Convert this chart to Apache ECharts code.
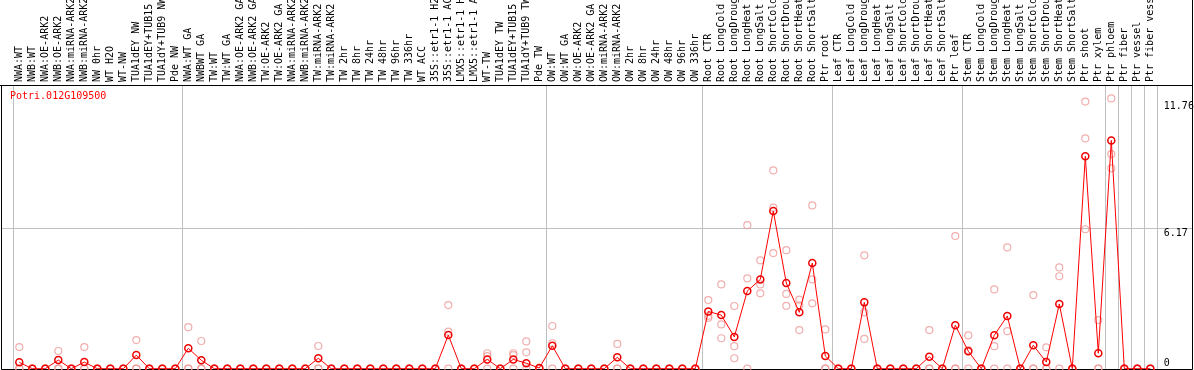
<!DOCTYPE html>
<html><head><meta charset="utf-8">
<script src="https://cdn.jsdelivr.net/npm/echarts@6/dist/echarts.min.js"></script>
<style>html,body{margin:0;padding:0;background:#fff}#c{width:1194px;height:370px}</style>
</head><body><div id="c"></div>
<script>
const geneName = 'Potri.012G109500';
const categories = [
'NWA:WT','NWB:WT','NWA:OE-ARK2','NWB:OE-ARK2','NWA:miRNA-ARK2','NWB:miRNA-ARK2','NW 0hr','WT H2O','WT-NW','TUA1dEY NW','TUA1dEY+TUB15 NW','TUA1dY+TUB9 NW','Pde NW',
'NWA:WT GA','NWBWT GA','TW:WT','TW:WT GA','NWA:OE-ARK2 GA','NWB:OE-ARK2 GA','TW:OE-ARK2','TW:OE-ARK2 GA','NWA:miRNA-ARK2','NWB:miRNA-ARK2','TW:miRNA-ARK2','TW:miRNA-ARK2','TW 2hr','TW 8hr','TW 24hr','TW 48hr','TW 96hr','TW 336hr','WT ACC','35S::etr1-1 H2O','35S::etr1-1 ACC','LMX5::etr1-1 H2O','LMX5::etr1-1 ACC','WT-TW','TUA1dEY TW','TUA1dEY+TUB15 TW','TUA1dY+TUB9 TW','Pde TW',
'OW:WT','OW:WT GA','OW:OE-ARK2','OW:OE-ARK2 GA','OW:miRNA-ARK2','OW:miRNA-ARK2','OW 2hr','OW 8hr','OW 24hr','OW 48hr','OW 96hr','OW 336hr',
'Root CTR','Root LongCold','Root LongDrought','Root LongHeat','Root LongSalt','Root ShortCold','Root ShortDrought','Root ShortHeat','Root ShortSalt','Ptr root',
'Leaf CTR','Leaf LongCold','Leaf LongDrought','Leaf LongHeat','Leaf LongSalt','Leaf ShortCold','Leaf ShortDrought','Leaf ShortHeat','Leaf ShortSalt','Ptr leaf',
'Stem CTR','Stem LongCold','Stem LongDrought','Stem LongHeat','Stem LongSalt','Stem ShortCold','Stem ShortDrought','Stem ShortHeat','Stem ShortSalt','Ptr shoot','Ptr xylem',
'Ptr phloem','Ptr fiber','Ptr vessel','Ptr fiber vessel'];

const meanValues = [
0.28,0,0,0.38,0,0.29,0,0,0,0.60,0,0,0,
0.90,0.37,0,0,0,0,0,0,0,0,0.46,0,0,0,0,0,0,0,0,0,1.48,0,0,0.41,0,0.41,0.24,0.03,
1.01,0,0,0,0,0.50,0,0,0,0,0,0,
2.52,2.36,1.40,3.42,3.93,6.94,3.77,2.48,4.65,0.56,
0,0,2.92,0,0,0,0,0.53,0,1.91,
0.77,0,1.47,2.32,0,1.03,0.29,2.85,0,9.35,0.68,
10.05,0,0,0];

const replicateValues = [
[0.95,0,0],[0,0,0],[0,0,0],[0.78,0,0],[0,0,0],[0.95,0,0],[0,0,0],[0,0,0],[0,0,0],[1.26,0,0],[0,0,0],[0,0,0],[0,0,0],
[1.83,0,0],[1.22,0,0],[0,0,0],[0,0,0],[0,0,0],[0,0,0],[0,0,0],[0,0,0],[0,0,0],[0,0,0],[1.0,0,0],[0,0,0],[0,0,0],[0,0,0],[0,0,0],[0,0,0],[0,0,0],[0,0,0],[0,0,0],[0,0,0],[2.8,1.63,0],[0,0,0],[0,0,0],[0.68,0.55,0],[0,0,0],[0.68,0.6,0],[1.2,0.72,0],[0,0,0],
[1.88,1.12,0],[0,0,0],[0,0,0],[0,0,0],[0,0,0],[1.09,0,0],[0,0,0],[0,0,0],[0,0,0],[0,0,0],[0,0,0],[0,0,0],
[3.02,2.33,2.24],[3.71,1.95,1.34],[2.76,0.99,0.46],[6.32,3.98,0],[4.77,3.71,3.32],[8.73,7.09,5.09],[5.22,3.29,2.77],[3.04,2.79,1.70],[7.19,3.93,2.88],[1.73,0,0],
[0,0,0],[0,0,0],[4.99,2.48,1.31],[0,0,0],[0,0,0],[0,0,0],[0,0,0],[1.70,0,0],[0,0,0],[5.84,0,0],
[1.47,0.82,0],[0,0,0],[3.49,0.99,0],[5.34,1.65,0],[0,0,0],[3.24,0,0],[0.94,0,0],[4.46,4.07,0],[0,0,0],[11.76,10.14,6.14],[2.14,0,0],
[11.90,9.45,8.82],[0,0,0],[0,0,0],[0,0,0]];

const groupStartIndices = [0,13,41,53,63,73,84,85,86,87];
const yTickValues = [0, 6.17, 11.76];
const gridlineValues = [6.17];
const yMax = 12.49;

const FONT = '"DejaVu Sans Mono", "Liberation Mono", monospace';
const frame = {left: 1.5, right: 1192.5, top: 85.5, bottom: 369.5};
const isGroupStart = (i) => groupStartIndices.indexOf(i) >= 0;

const scatterData = [];
replicateValues.forEach((reps, i) => reps.forEach(v => scatterData.push([i, v])));

const chart = echarts.init(document.getElementById('c'), null, {renderer: 'canvas'});
chart.setOption({
  animation: false,
  backgroundColor: '#fff',
  title: {text: geneName, left: 10, top: 91, padding: 0,
    textStyle: {color: '#ff0000', fontFamily: FONT, fontSize: 10, fontWeight: 'normal'}},
  grid: {left: 12.8, right: 37.2, top: 85, bottom: 1.3, containLabel: false, outerBoundsMode: 'none'},
  xAxis: {
    type: 'category', position: 'top', data: categories, boundaryGap: true,
    axisLine: {show: false},
    axisTick: {show: true, interval: (i) => isGroupStart(i), length: 85, lineStyle: {color: '#c0c0c0', width: 1}},
    splitLine: {show: true, interval: (i) => isGroupStart(i), lineStyle: {color: '#c0c0c0', width: 1}},
    axisLabel: {interval: 0, rotate: 90, margin: 3, color: '#000', fontFamily: FONT, fontSize: 10, hideOverlap: false}
  },
  yAxis: [
    {type: 'value', position: 'right', min: 0, max: yMax,
     axisLine: {show: false}, axisTick: {show: false}, splitLine: {show: false},
     axisLabel: {customValues: yTickValues.filter(v => v > 0), verticalAlign: 'top', margin: 7,
       color: '#000', fontFamily: FONT, fontSize: 10, formatter: v => String(v)}},
    {type: 'value', position: 'right', min: 0, max: yMax,
     axisLine: {show: false}, axisTick: {show: false}, splitLine: {show: false},
     axisLabel: {customValues: yTickValues.filter(v => v === 0), verticalAlign: 'bottom', margin: 7,
       color: '#000', fontFamily: FONT, fontSize: 10, formatter: v => String(v)}}
  ],
  series: [
    {type: 'scatter', data: scatterData, symbol: 'circle', symbolSize: 7, z: 2,
     itemStyle: {color: 'rgba(0,0,0,0)', borderColor: '#ee9a9a', borderWidth: 1.2}},
    {type: 'line', data: meanValues, symbol: 'circle', symbolSize: 7, z: 3, showAllSymbol: true,
     lineStyle: {color: '#ff0000', width: 1},
     itemStyle: {color: 'rgba(0,0,0,0)', borderColor: '#ee0000', borderWidth: 1.5}}
  ]
});

const gridGraphics = gridlineValues.map(v => {
  const y = Math.round(chart.convertToPixel({yAxisIndex: 0}, v) - 0.5) + 0.5;
  return {type: 'line', z: 0, silent: true, shape: {x1: frame.left, y1: y, x2: frame.right, y2: y},
          style: {stroke: '#c0c0c0', lineWidth: 1}};
});
chart.setOption({graphic: gridGraphics.concat([
  {type: 'polyline', z: 1, silent: true,
   shape: {points: [[frame.left, frame.top], [frame.left, frame.bottom], [frame.right, frame.bottom], [frame.right, 0]]},
   style: {stroke: '#000', lineWidth: 1, fill: null}},
  {type: 'line', z: 1, silent: true, shape: {x1: 0, y1: frame.top, x2: frame.right, y2: frame.top},
   style: {stroke: '#000', lineWidth: 1}}
])});
</script></body></html>
